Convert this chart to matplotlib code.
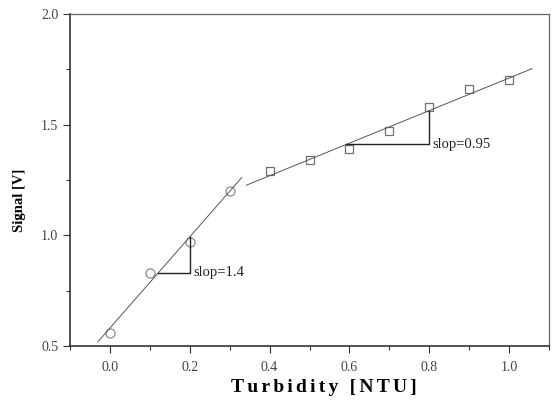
import numpy as np
import matplotlib
matplotlib.use("Agg")
import matplotlib.pyplot as plt
from matplotlib.ticker import MultipleLocator, FormatStrFormatter

# Data
x_low = [0.0, 0.1, 0.2, 0.3]
y_low = [0.56, 0.83, 0.97, 1.20]
x_high = [0.4, 0.5, 0.6, 0.7, 0.8, 0.9, 1.0]
y_high = [1.29, 1.34, 1.39, 1.47, 1.58, 1.66, 1.70]

fit_range_low = [-0.03, 0.33]
fit_range_high = [0.342, 1.057]
tri_low = [0.121, 0.2]
tri_high = [0.592, 0.80]
label_low = "slop=1.4"
label_high = "slop=0.95"
x_title = "Turbidity [NTU]"
y_title = "Signal [V]"

plt.rcParams['font.family'] = ['Liberation Serif', 'DejaVu Serif']

fig = plt.figure(figsize=(5.57, 4.05), dpi=100)
ax = fig.add_axes([70/557, 1-346/405, (549-70)/557, (346-14)/405])

ax.plot(x_low, y_low, 'o', mfc='none', mec='#8a8a8a', ms=6.5, mew=0.9)
ax.plot(x_high, y_high, 's', mfc='none', mec='#707070', ms=6, mew=0.9)

p1 = np.polyfit(x_low, y_low, 1)
p2 = np.polyfit(x_high, y_high, 1)
xf1 = np.array(fit_range_low)
xf2 = np.array(fit_range_high)
ax.plot(xf1, np.polyval(p1, xf1), color='#555555', lw=0.7)
ax.plot(xf2, np.polyval(p2, xf2), color='#555555', lw=0.7)

for tri, p, lab in [(tri_low, p1, label_low), (tri_high, p2, label_high)]:
    xa, xb = tri
    ya = np.polyval(p, xa)
    yb = np.polyval(p, xb)
    ax.plot([xa, xb, xb], [ya, ya, yb], color='#222222', lw=1.0)
    ax.text(xb + 0.008, ya, lab, fontsize=10.5, va='center', ha='left', color='#222222')

ax.set_xlim(-0.1, 1.1)
ax.set_ylim(0.5, 2.0)
ax.xaxis.set_major_locator(MultipleLocator(0.2))
ax.xaxis.set_minor_locator(MultipleLocator(0.1))
ax.yaxis.set_major_locator(MultipleLocator(0.5))
ax.yaxis.set_minor_locator(MultipleLocator(0.25))
ax.xaxis.set_major_formatter(FormatStrFormatter('%.1f'))
ax.yaxis.set_major_formatter(FormatStrFormatter('%.1f'))
ax.tick_params(which='both', direction='out', top=False, right=False, colors='#333333',
               labelsize=10, labelcolor='#444444')
ax.tick_params(which='major', length=5, width=0.8)
ax.tick_params(which='minor', length=3, width=0.8)
ax.tick_params(axis='x', pad=6)
for s in ['left', 'bottom']:
    ax.spines[s].set_linewidth(1.2)
    ax.spines[s].set_color('#333333')
for s in ['top', 'right']:
    ax.spines[s].set_linewidth(0.9)
    ax.spines[s].set_color('#666666')

spaced = "\u2006".join(x_title)
ax.set_xlabel(spaced, fontsize=14, fontweight='bold')
ax.xaxis.set_label_coords((324-70)/(549-70), -(388-346)/(346-14))
ax.xaxis.label.set_va('center')
ax.set_ylabel(y_title, fontsize=10.5, fontweight='bold')
ax.yaxis.set_label_coords(-(70-20)/(549-70), (346-200)/(346-14))
ax.yaxis.label.set_va('center')

fig.savefig('out.png', dpi=100)
